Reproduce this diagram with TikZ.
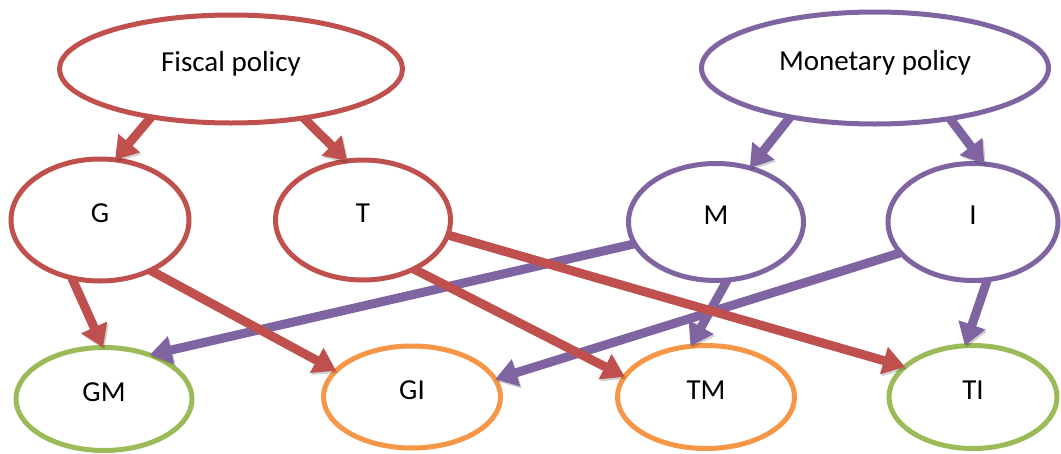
\documentclass[tikz,border=0pt]{standalone}
\usepackage{fontspec}
\setmainfont{Carlito}
\usetikzlibrary{arrows.meta,shapes.geometric}
\definecolor{cred}{HTML}{C0504D}
\definecolor{cpurple}{HTML}{8064A2}
\definecolor{cgreen}{HTML}{9BBB59}
\definecolor{corange}{HTML}{F79646}
\begin{document}
\begin{tikzpicture}[x=1pt,y=-1pt,
  ell/.style={ellipse,draw,line width=5pt,fill=white,inner sep=0pt,outer sep=0pt,
    font=\fontsize{29}{32}\selectfont,text height=10pt,text depth=6pt},
  conn/.style={line width=9pt,-{Triangle[length=22pt,width=27pt]},
    preaction={draw=black,opacity=0.18,transform canvas={shift={(1.5pt,-2pt)}}}},
]
\useasboundingbox (0,0) rectangle (1061,453);
% nodes
\node[ell,draw=cred,minimum width=343pt,minimum height=108pt] (F) at (231,69) {Fiscal policy};
\node[ell,draw=cpurple,minimum width=347pt,minimum height=112pt] (MP) at (875,68) {Monetary policy};
\node[ell,draw=cred,minimum width=178pt,minimum height=122pt] (G) at (100,220) {G};
\node[ell,draw=cred,minimum width=175pt,minimum height=120pt] (T) at (363,220) {T};
\node[ell,draw=cpurple,minimum width=175pt,minimum height=117pt] (M) at (716,222) {M};
\node[ell,draw=cpurple,minimum width=170pt,minimum height=117pt] (I) at (973,222) {I};
\node[ell,draw=cgreen,minimum width=176pt,minimum height=103pt] (GM) at (104,399) {GM};
\node[ell,draw=corange,minimum width=177pt,minimum height=102pt] (GI) at (412,397) {GI};
\node[ell,draw=corange,minimum width=177pt,minimum height=103pt] (TM) at (706,397) {TM};
\node[ell,draw=cgreen,minimum width=168pt,minimum height=103pt] (TI) at (973,397) {TI};
% connectors
\draw[conn,cred] (F.-149.5) -- (G.76);
\draw[conn,cred] (F.-34) -- (T.105);
\draw[conn,cpurple] (MP.-150) -- (M.58);
\draw[conn,cpurple] (MP.-34.5) -- (I.79);
\draw[conn,cred] (G.-116) -- (GM.91);
\draw[conn,cpurple] (M.-165) -- (GM.44);
\draw[conn,cred] (G.-45) -- (GI.161);
\draw[conn,cpurple] (I.-157) -- (GI.12.8);
\draw[conn,cpurple] (M.-79.5) -- (TM.107);
\draw[conn,cred] (T.-44.4) -- (TM.166.8);
\draw[conn,cred] (T.-10.3) -- (TI.156);
\draw[conn,cpurple] (I.-76) -- (TI.99.6);
\end{tikzpicture}
\end{document}
